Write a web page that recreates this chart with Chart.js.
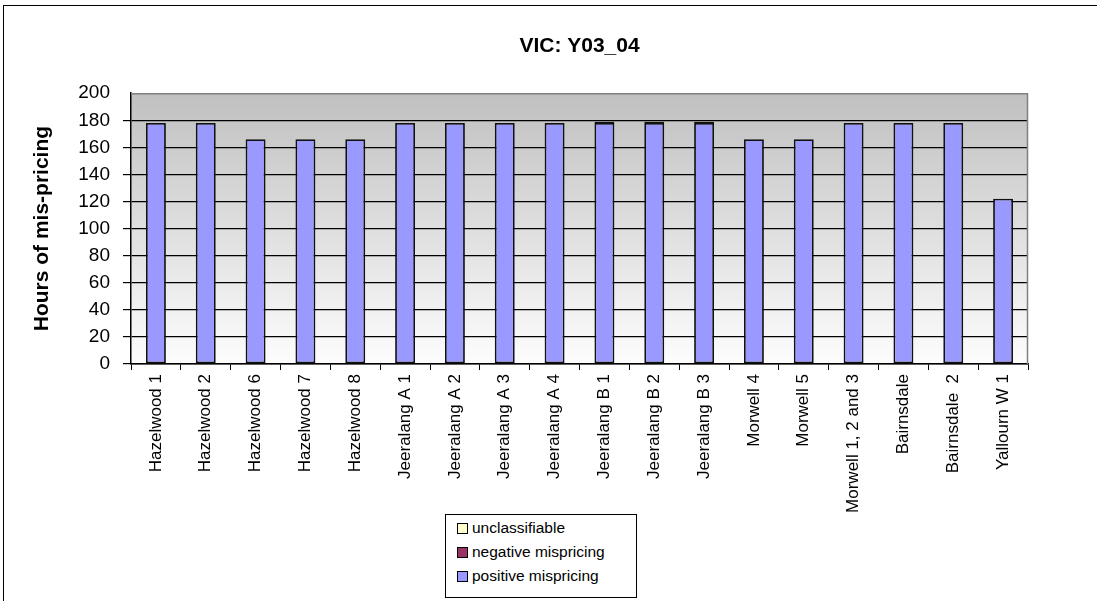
<!DOCTYPE html>
<html>
<head>
<meta charset="utf-8">
<script src="https://cdn.jsdelivr.net/npm/chart.js@4"></script>
<style>
  html, body { margin: 0; padding: 0; background: #fff; }
  #wrap { position: relative; width: 1097px; height: 601px; overflow: hidden; }
  #frame { position: absolute; left: 3px; top: 5px; width: 1110px; height: 620px; border: 1px solid #000; box-sizing: border-box; pointer-events: none; }
  #c { position: absolute; left: 0; top: 0; }
  #legend { position: absolute; left: 445px; top: 514px; width: 192px; height: 84px; border: 1px solid #000; box-sizing: border-box; background: #fff; font-family: "Liberation Sans", Arial, sans-serif; font-size: 15.5px; color: #000; padding-top: 1px; }
  .item { height: 24px; line-height: 24px; display: flex; align-items: center; padding-left: 11px; }
  .sw { width: 9px; height: 9px; border: 1px solid #000; margin-right: 4px; }
</style>
</head>
<body>
<div id="wrap">
  <canvas id="c" width="1097" height="601"></canvas>
  <div id="frame"></div>
  <div id="legend"></div>
</div>
<script>
const categories = ["Hazelwood 1","Hazelwood 2","Hazelwood 6","Hazelwood 7","Hazelwood 8","Jeeralang A 1","Jeeralang A 2","Jeeralang A 3","Jeeralang A 4","Jeeralang B 1","Jeeralang B 2","Jeeralang B 3","Morwell 4","Morwell 5","Morwell 1, 2 and 3","Bairnsdale","Bairnsdale  2","Yallourn W 1"];
const positiveMispricing = [178,178,166,166,166,178,178,178,178,178,178,178,166,166,178,178,178,122];
const negativeMispricing = [0,0,0,0,0,0,0,0,0,1,1,1,0,0,0,0,0,0];
const unclassifiable = [0,0,0,0,0,0,0,0,0,0,0,0,0,0,0,0,0,0];
const yTicks = [0,20,40,60,80,100,120,140,160,180,200];
const chartTitle = "VIC: Y03_04";
const yTitle = "Hours of mis-pricing";

const FONT = "'Liberation Sans', Arial, sans-serif";

const bgPlugin = {
  id: 'plotBg',
  beforeDraw(chart) {
    const a = chart.chartArea, ctx = chart.ctx;
    const g = ctx.createLinearGradient(0, a.top, 0, a.bottom);
    g.addColorStop(0, '#c0c0c0');
    g.addColorStop(1, '#fdfdfd');
    ctx.save();
    ctx.fillStyle = g;
    ctx.fillRect(a.left, a.top, a.right - a.left, a.bottom - a.top);
    ctx.restore();
  },
  afterDatasetsDraw(chart) {
    const a = chart.chartArea, ctx = chart.ctx;
    ctx.save();
    ctx.strokeStyle = '#808080';
    ctx.lineWidth = 1.5;
    ctx.beginPath();
    ctx.moveTo(a.left, a.top + 0.5);
    ctx.lineTo(a.right - 0.5, a.top + 0.5);
    ctx.lineTo(a.right - 0.5, a.bottom);
    ctx.stroke();
    ctx.restore();
  }
};

const widths = arr => arr.map(v => (v ? 1.8 : 0));

const datasets = [
  { label: 'positive mispricing', data: positiveMispricing, backgroundColor: '#9999ff', borderWidth: widths(positiveMispricing) },
  { label: 'negative mispricing', data: negativeMispricing, backgroundColor: '#993366', borderWidth: widths(negativeMispricing) },
  { label: 'unclassifiable', data: unclassifiable, backgroundColor: '#ffffcc', borderWidth: widths(unclassifiable) }
].map(d => Object.assign(d, { borderColor: '#111', borderSkipped: false, categoryPercentage: 1.0, barPercentage: 0.4 }));

new Chart(document.getElementById('c'), {
  type: 'bar',
  data: { labels: categories, datasets },
  options: {
    responsive: false,
    animation: false,
    devicePixelRatio: 1,
    layout: { padding: { left: 0, right: 69, top: 0, bottom: 0 } },
    plugins: {
      legend: { display: false },
      tooltip: { enabled: false },
      title: {
        display: true, text: chartTitle, fullSize: false, color: '#000',
        font: { family: FONT, size: 21, weight: 'bold', lineHeight: 1.2 },
        padding: { top: 34, bottom: 34 }
      }
    },
    scales: {
      x: {
        stacked: true,
        afterFit: s => { s.height = 237; },
        grid: { display: true, drawOnChartArea: false, drawTicks: true, tickLength: 6, color: '#000', offset: true },
        border: { display: true, color: '#000', width: 1.5 },
        ticks: { color: '#000', font: { family: FONT, size: 17 }, minRotation: 90, maxRotation: 90, autoSkip: false, padding: 4 }
      },
      y: {
        stacked: true,
        min: 0, max: 200,
        afterFit: s => { s.width = 131; },
        afterBuildTicks: s => { s.ticks = yTicks.map(v => ({ value: v })); },
        grid: { color: c => (c.tick && c.tick.value === 200 ? 'rgba(0,0,0,0)' : '#000'), lineWidth: 1.2, tickLength: 8, drawTicks: true },
        border: { display: true, color: '#000', width: 1.5 },
        ticks: { color: '#000', font: { family: FONT, size: 19 }, padding: 13 },
        title: { display: true, text: yTitle, color: '#000', font: { family: FONT, size: 21, weight: 'bold', lineHeight: 1.2 }, padding: { top: 30, bottom: 0 } }
      }
    }
  },
  plugins: [bgPlugin]
});

// HTML legend (reverse order like reference)
const lg = document.getElementById('legend');
datasets.slice().reverse().forEach(d => {
  const it = document.createElement('div');
  it.className = 'item';
  const sw = document.createElement('span');
  sw.className = 'sw';
  sw.style.background = d.backgroundColor;
  const tx = document.createElement('span');
  tx.textContent = d.label;
  it.appendChild(sw); it.appendChild(tx);
  lg.appendChild(it);
});
</script>
</body>
</html>
